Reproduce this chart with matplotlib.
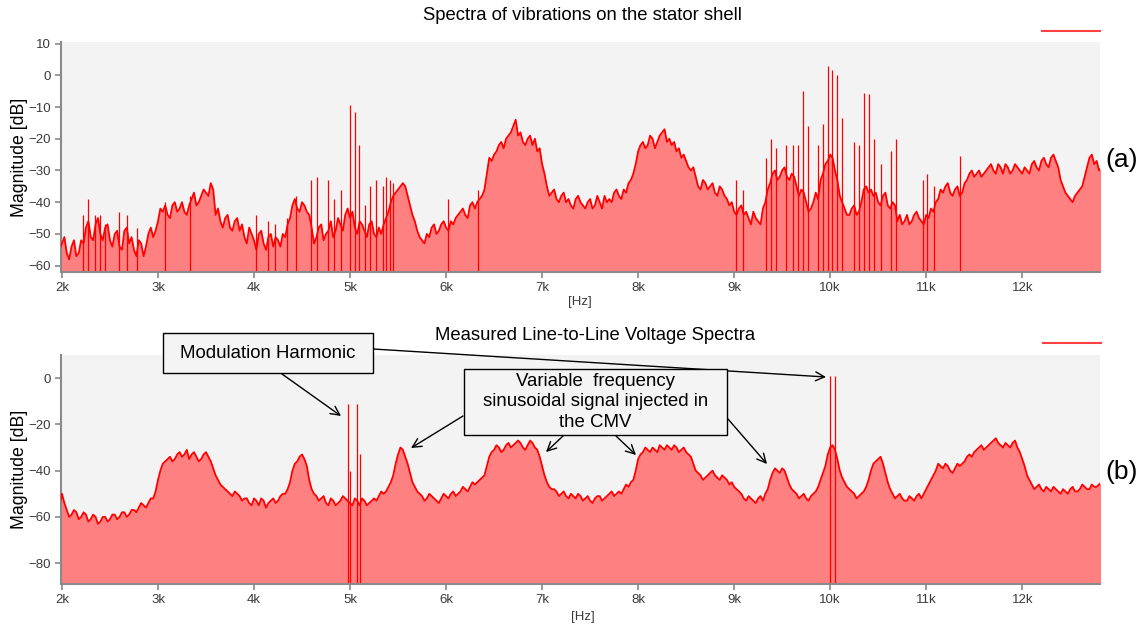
import numpy as np
import matplotlib
matplotlib.use("Agg")
import matplotlib.pyplot as plt
from matplotlib.patches import Rectangle, FancyArrowPatch
from matplotlib.ticker import FuncFormatter

plt.rcParams['font.family'] = ['Liberation Sans', 'DejaVu Sans']

# ---------------- data ----------------
freq_start, freq_step = 1950, 25  # Hz, sampling of the read-off spectra

# vibration spectrum, values at 1950, 2000, ... 12850 Hz
vib_db = [
    -47,
    -53, -56, -54, -57, -52, -48, -51, -47, -50, -48,
    -52, -50, -54, -49, -53, -55, -52, -57, -50, -51,
    -46, -43, -44, -41, -43, -40, -44, -39, -41, -38,
    -37, -34, -44, -46, -45, -48, -46, -49, -51, -48,
    -52, -50, -53, -51, -54, -52, -50, -47, -41, -42,
    -40, -43, -48, -51, -47, -50, -46, -49, -47, -44,
    -45, -48, -46, -49, -47, -50, -48, -47, -43, -38,
    -36, -34, -38, -44, -49, -52, -50, -48, -50, -47,
    -48, -46, -45, -43, -44, -41, -42, -39, -36, -26,
    -25, -22, -23, -19, -16, -19, -21, -20, -22, -24,
    -28, -35, -37, -39, -38, -40, -41, -39, -40, -42,
    -39, -41, -40, -38, -39, -37, -38, -36, -34, -31,
    -24, -21, -22, -20, -21, -18, -21, -22, -24, -26,
    -27, -30, -32, -36, -34, -35, -37, -35, -38, -41,
    -43, -42, -44, -45, -43, -46, -42, -36, -31, -33,
    -30, -32, -31, -35, -36, -40, -42, -37, -33, -28,
    -25, -30, -38, -42, -44, -41, -43, -36, -37, -38,
    -40, -38, -41, -40, -46, -47, -44, -46, -43, -46,
    -44, -42, -40, -36, -35, -37, -36, -38, -34, -31,
    -32, -30, -31, -29, -30, -28, -31, -29, -30, -29,
    -31, -30, -28, -29, -27, -28, -26, -27, -33, -37,
    -39, -38, -36, -32, -26, -28, -30, -31,
]
# vibration spectrum, values at 1975, 2025, ... 12825 Hz
vib_mid_db = [
    -55, -51, -58, -52, -56, -53, -46, -52, -45, -52,
    -47, -54, -49, -55, -48, -51, -57, -53, -54, -48,
    -49, -42, -41, -45, -40, -42, -43, -41, -37, -40,
    -36, -38, -36, -42, -48, -44, -49, -45, -47, -53,
    -50, -55, -49, -55, -50, -51, -54, -51, -45, -39,
    -43, -41, -44, -53, -48, -52, -49, -51, -45, -49,
    -42, -43, -50, -47, -51, -46, -51, -50, -45, -40,
    -37, -35, -35, -41, -46, -51, -53, -51, -47, -49,
    -46, -49, -47, -44, -42, -45, -40, -40, -38, -31,
    -27, -24, -21, -20, -18, -14, -18, -22, -19, -20,
    -23, -31, -38, -36, -40, -37, -39, -42, -38, -41,
    -40, -42, -38, -42, -40, -40, -36, -39, -37, -33,
    -28, -22, -23, -19, -23, -19, -17, -20, -21, -23,
    -25, -29, -29, -35, -33, -36, -34, -38, -36, -39,
    -40, -44, -41, -43, -47, -45, -47, -40, -34, -30,
    -32, -29, -33, -32, -38, -37, -43, -40, -39, -31,
    -27, -26, -33, -40, -44, -42, -44, -40, -35, -36,
    -37, -41, -37, -42, -41, -44, -46, -47, -44, -45,
    -47, -45, -43, -39, -37, -34, -38, -35, -37, -33,
    -30, -31, -32, -30, -28, -31, -29, -28, -31, -28,
    -30, -29, -31, -27, -30, -26, -29, -25, -29, -35,
    -38, -40, -37, -35, -29, -25, -27, -29,
]

vib_spike_hz = [2216, 2272, 2345, 2397, 2450, 2589, 2677, 2780, 3077, 3338,
                4019, 4142, 4222, 4344, 4437, 4594, 4657, 4768, 4838, 4908,
                4995, 5047, 5093, 5152, 5204, 5274, 5344, 5379, 5413, 5449,
                6024, 6330, 9022, 9092, 9336, 9389, 9441, 9545, 9618, 9664,
                9712, 9765, 9870, 9928, 9973, 10024, 10076, 10128, 10250, 10302,
                10354, 10406, 10459, 10529, 10633, 10686, 10968, 11008, 11078, 11352]
vib_spike_db = [-44, -39, -44, -44, -47, -43, -44, -48, -40, -38,
                -44, -46, -47, -45, -38, -33, -32, -33, -39, -36,
                -9.5, -11.5, -22, -41, -35, -33, -35, -32, -33, -34,
                -39, -36, -33, -36, -26, -20, -23, -22, -22, -22,
                -5, -16, -22, -15.5, 3, 1.6, 0.2, -13.5, -21, -22,
                -5.5, -6, -20, -28, -24, -20, -33, -31, -35, -25.5]

# line-to-line voltage spectrum, values at 1950, 2000, ... 12850 Hz
volt_db = [
    -48,
    -50, -57, -59, -58, -60, -59, -61, -60, -62, -60,
    -61, -59, -60, -58, -59, -57, -56, -55, -54, -52,
    -44, -37, -35, -36, -33, -34, -31, -33, -34, -35,
    -32, -36, -42, -46, -48, -50, -49, -51, -52, -54,
    -52, -55, -53, -54, -52, -53, -50, -48, -40, -36,
    -33, -38, -48, -51, -52, -54, -52, -55, -53, -52,
    -54, -52, -55, -53, -54, -52, -51, -50, -47, -42,
    -33, -31, -37, -45, -49, -51, -52, -51, -53, -52,
    -51, -50, -51, -49, -48, -47, -46, -44, -42, -34,
    -31, -30, -31, -28, -29, -27, -30, -29, -28, -31,
    -38, -45, -48, -49, -50, -51, -50, -52, -51, -52,
    -53, -52, -51, -52, -50, -51, -49, -48, -47, -44,
    -35, -32, -31, -30, -32, -30, -29, -31, -30, -31,
    -32, -34, -40, -42, -43, -41, -42, -44, -43, -46,
    -47, -49, -52, -51, -53, -52, -53, -48, -41, -40,
    -39, -43, -48, -50, -51, -52, -51, -49, -44, -38,
    -30, -31, -40, -45, -48, -50, -51, -49, -44, -37,
    -35, -37, -45, -50, -51, -52, -53, -52, -51, -52,
    -48, -44, -40, -38, -37, -40, -39, -38, -36, -33,
    -32, -30, -31, -29, -27, -28, -30, -29, -28, -30,
    -35, -42, -46, -47, -48, -47, -49, -48, -50, -49,
    -48, -49, -48, -47, -48, -47, -46, -45,
]
# line-to-line voltage spectrum, values at 1975, 2025, ... 12825 Hz
volt_mid_db = [
    -55, -54, -60, -57, -61, -58, -62, -59, -63, -60,
    -62, -59, -61, -58, -60, -57, -58, -54, -56, -52,
    -49, -40, -36, -34, -35, -32, -33, -35, -32, -36,
    -33, -34, -39, -44, -47, -49, -51, -50, -53, -52,
    -55, -53, -52, -56, -53, -54, -51, -50, -45, -37,
    -34, -35, -44, -50, -53, -51, -55, -53, -54, -51,
    -53, -55, -53, -52, -55, -53, -53, -49, -49, -45,
    -37, -30, -34, -41, -47, -50, -53, -50, -52, -54,
    -50, -52, -49, -50, -47, -49, -45, -45, -43, -38,
    -32, -29, -32, -29, -30, -28, -28, -31, -27, -30,
    -34, -42, -47, -48, -51, -49, -52, -51, -50, -53,
    -51, -54, -51, -53, -51, -49, -50, -50, -46, -45,
    -40, -33, -30, -32, -31, -29, -31, -30, -29, -32,
    -30, -33, -37, -41, -44, -42, -40, -43, -42, -44,
    -45, -48, -50, -53, -52, -54, -51, -50, -44, -39,
    -41, -40, -46, -49, -52, -50, -53, -50, -47, -41,
    -33, -29, -35, -43, -47, -49, -52, -50, -47, -40,
    -36, -34, -41, -48, -52, -50, -53, -51, -53, -50,
    -50, -46, -42, -37, -39, -38, -41, -37, -37, -34,
    -34, -31, -29, -30, -28, -26, -29, -28, -30, -27,
    -32, -38, -44, -48, -46, -49, -48, -47, -49, -48,
    -50, -47, -49, -46, -48, -46, -47, -45,
]

volt_spike_hz = [4978, 4995, 5075, 5100, 10002, 10054]
volt_spike_db = [-11, -40, -11, -33, 1, 1]

xticks_hz = [2000, 3000, 4000, 5000, 6000, 7000, 8000, 9000, 10000, 11000, 12000]
vib_yticks = [10, 0, -10, -20, -30, -40, -50, -60]
volt_yticks = [0, -20, -40, -60, -80]

title_a = "Spectra of vibrations on the stator shell"
title_b = "Measured Line-to-Line Voltage Spectra"

# ---------------- figure ----------------
W, H = 1140, 627
fig = plt.figure(figsize=(W / 100, H / 100), dpi=100)


def fpx(x, y):
    return (x / W, 1 - y / H)


FILL = '#ff8080'
LINE = '#ff0000'
GRAY = '#8a8a8a'


def style(ax, ylim, yticks):
    ax.set_facecolor('#f3f3f3')
    ax.set_xlim(1990, 12810)
    ax.set_ylim(*ylim)
    ax.set_xticks(xticks_hz)
    ax.xaxis.set_major_formatter(FuncFormatter(lambda v, p: f"{int(v/1000)}k"))
    ax.set_yticks(yticks)
    for s in ('top', 'right'):
        ax.spines[s].set_visible(False)
    for s in ('left', 'bottom'):
        ax.spines[s].set_color(GRAY)
        ax.spines[s].set_linewidth(1.5)
    ax.tick_params(axis='both', direction='out', length=4, width=1.2,
                   color=GRAY, labelsize=9.5, labelcolor='#3a3a3a', pad=3)
    ax.set_ylabel("Magnitude [dB]", fontsize=12.8)
    ax.yaxis.set_label_coords(-0.032, 0.5)


def draw(ax, vals, mids, sp_hz, sp_db, ybot):
    y = np.empty(len(vals) + len(mids))
    y[0::2] = vals
    y[1::2] = mids
    f = freq_start + freq_step * np.arange(len(y))
    ax.fill_between(f, ybot, y, color=FILL, lw=0, zorder=1)
    ax.vlines(sp_hz, ybot, sp_db, color=LINE, lw=0.9, zorder=2)
    ax.plot(f, y, color=LINE, lw=1.3, zorder=3)


ax1 = fig.add_axes([61 / W, 1 - 272 / H, (1100 - 61) / W, (272 - 42) / H])
style(ax1, (-62, 10.5), vib_yticks)
draw(ax1, vib_db, vib_mid_db, vib_spike_hz, vib_spike_db, -62)

ax2 = fig.add_axes([61 / W, 1 - 584 / H, (1100 - 61) / W, (584 - 355) / H])
style(ax2, (-89, 10), volt_yticks)
draw(ax2, volt_db, volt_mid_db, volt_spike_hz, volt_spike_db, -89)

# titles, x labels, panel tags
fig.text(*fpx(582, 15), title_a, ha='center', va='center', fontsize=13.3)
fig.text(*fpx(595, 335), title_b, ha='center', va='center', fontsize=13.3)
fig.text(*fpx(580, 302), "[Hz]", ha='center', va='center', fontsize=9.5, color='#3a3a3a')
fig.text(*fpx(583, 617), "[Hz]", ha='center', va='center', fontsize=9.5, color='#3a3a3a')
fig.text(*fpx(1105, 160), "(a)", ha='left', va='center', fontsize=19)
fig.text(*fpx(1105, 472), "(b)", ha='left', va='center', fontsize=19)

# legend-like red lines
for yy, x0, x1 in ((31, 1042, 1100), (343, 1043, 1101)):
    fig.add_artist(plt.Line2D([x0 / W, x1 / W], [1 - yy / H, 1 - yy / H],
                              color='#ff4040', lw=1.5, transform=fig.transFigure))


def box(x0, y0, x1, y1, text, fs):
    fig.add_artist(Rectangle(fpx(x0, y1), (x1 - x0) / W, (y1 - y0) / H,
                             transform=fig.transFigure, facecolor='#f4f4f4',
                             edgecolor='black', lw=1.0, zorder=10))
    fig.text(*fpx((x0 + x1) / 2, (y0 + y1) / 2), text, ha='center', va='center',
             fontsize=fs, zorder=11, linespacing=1.25)


def arrow(xs, ys, xe, ye):
    fig.add_artist(FancyArrowPatch(
        fpx(xs, ys), fpx(xe, ye), transform=fig.transFigure,
        arrowstyle='->', mutation_scale=16, lw=1.0, color='black', zorder=9,
        shrinkA=0, shrinkB=0))


box(163, 333, 373, 373, "Modulation Harmonic", 13.4)
arrow(282, 374, 341, 416)
arrow(373, 349, 826, 377)

box(464, 369, 727, 435, "Variable  frequency\nsinusoidal signal injected in\nthe CMV", 13.4)
arrow(463, 416, 411, 448)
arrow(563, 436, 546, 452)
arrow(616, 436, 636, 455)
arrow(728, 419, 767, 464)

fig.savefig("out.png", dpi=100)
